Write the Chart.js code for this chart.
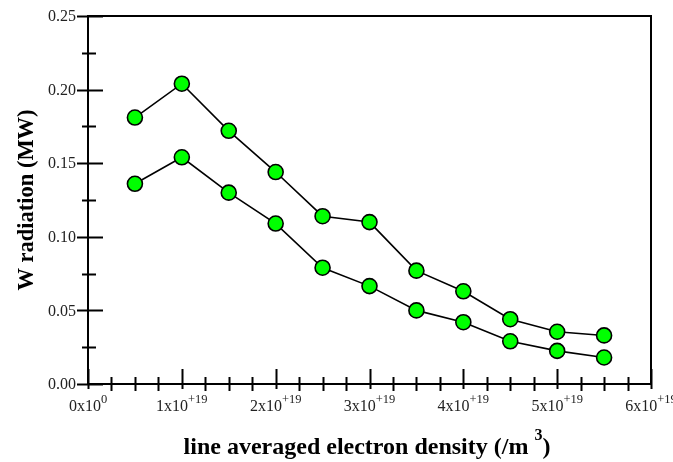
<!DOCTYPE html>
<html>
<head>
<meta charset="utf-8">
<script src="https://cdn.jsdelivr.net/npm/chart.js@4/dist/chart.umd.min.js"></script>
<style>
  html, body { margin: 0; padding: 0; background: #fff; }
  #wrap { width: 673px; height: 462px; }
</style>
</head>
<body>
<div id="wrap"><canvas id="radChart" width="673" height="462"></canvas></div>
<script>
// densities in /m^3
const densities = [0.5e19, 1.0e19, 1.5e19, 2.0e19, 2.5e19, 3.0e19, 3.5e19, 4.0e19, 4.5e19, 5.0e19, 5.5e19];
const upperSeries = [0.181, 0.204, 0.172, 0.144, 0.114, 0.110, 0.077, 0.063, 0.044, 0.0355, 0.033];
const lowerSeries = [0.136, 0.154, 0.130, 0.109, 0.079, 0.0665, 0.050, 0.042, 0.029, 0.0225, 0.018];

const xTickValues = [0, 1e19, 2e19, 3e19, 4e19, 5e19, 6e19];
const xTickBase = ['0x10', '1x10', '2x10', '3x10', '4x10', '5x10', '6x10'];
const xTickExp = ['0', '+19', '+19', '+19', '+19', '+19', '+19'];
const yTickValues = [0, 0.05, 0.10, 0.15, 0.20, 0.25];
const yTickLabels = ['0.00', '0.05', '0.10', '0.15', '0.20', '0.25'];

const serif = '"Liberation Serif", "Times New Roman", serif';

function toPoints(ys) {
  return densities.map((x, i) => ({ x, y: ys[i] }));
}

const axesPlugin = {
  id: 'oldAxes',
  afterDraw(chart) {
    const ctx = chart.ctx;
    const xs = chart.scales.x;
    const ys = chart.scales.y;
    const a = chart.chartArea;
    ctx.save();
    ctx.strokeStyle = '#000';
    ctx.lineWidth = 2;
    ctx.strokeRect(a.left, a.top, a.right - a.left, a.bottom - a.top);

    // x ticks (minor every 0.25e19)
    ctx.beginPath();
    for (let i = 0; i <= 24; i++) {
      const px = Math.round(xs.getPixelForValue(i * 0.25e19)) + 0.5;
      if (i % 4 === 0) {
        ctx.moveTo(px, a.bottom - 15);
        ctx.lineTo(px, a.bottom + 5);
      } else {
        ctx.moveTo(px, a.bottom - 7);
        ctx.lineTo(px, a.bottom + 7);
      }
    }
    // y ticks (minor every 0.025)
    for (let i = 0; i <= 10; i++) {
      const py = Math.round(ys.getPixelForValue(i * 0.025)) + 0.5;
      if (i % 2 === 0) {
        ctx.moveTo(a.left - 11, py);
        ctx.lineTo(a.left + 15, py);
      } else {
        ctx.moveTo(a.left - 6, py);
        ctx.lineTo(a.left + 8, py);
      }
    }
    ctx.stroke();

    // y labels
    ctx.fillStyle = '#222';
    ctx.font = '16px ' + serif;
    ctx.textAlign = 'right';
    ctx.textBaseline = 'middle';
    yTickValues.forEach((v, i) => {
      ctx.fillText(yTickLabels[i], a.left - 12, ys.getPixelForValue(v) + 1);
    });

    // x labels with superscript exponent
    ctx.textBaseline = 'alphabetic';
    ctx.textAlign = 'left';
    xTickValues.forEach((v, i) => {
      ctx.font = '16px ' + serif;
      const wb = ctx.measureText(xTickBase[i]).width;
      ctx.font = '12.5px ' + serif;
      const we = ctx.measureText(xTickExp[i]).width;
      const start = xs.getPixelForValue(v) - (wb + we) / 2;
      ctx.font = '16px ' + serif;
      ctx.fillText(xTickBase[i], start, a.bottom + 27);
      ctx.font = '12.5px ' + serif;
      ctx.fillText(xTickExp[i], start + wb, a.bottom + 19);
    });

    // axis titles
    ctx.fillStyle = '#000';
    ctx.font = 'bold 24px ' + serif;
    const t1 = 'line averaged electron density (/m ';
    const t1w = ctx.measureText(t1).width;
    ctx.font = 'bold 16px ' + serif;
    const supW = ctx.measureText('3').width;
    ctx.font = 'bold 24px ' + serif;
    const closeW = ctx.measureText(')').width;
    let tx = 367 - (t1w + supW + closeW) / 2;
    ctx.fillText(t1, tx, a.bottom + 70);
    ctx.font = 'bold 16px ' + serif;
    ctx.fillText('3', tx + t1w, a.bottom + 56);
    ctx.font = 'bold 24px ' + serif;
    ctx.fillText(')', tx + t1w + supW, a.bottom + 70);

    ctx.translate(33, (a.top + a.bottom) / 2);
    ctx.rotate(-Math.PI / 2);
    ctx.textAlign = 'center';
    ctx.font = 'bold 22.5px ' + serif;
    ctx.fillText('W radiation (MW)', 0, 0);
    ctx.restore();
  }
};

const dsStyle = {
  showLine: true,
  borderColor: '#000',
  borderWidth: 1.6,
  pointBackgroundColor: '#00ff00',
  pointBorderColor: '#000',
  pointBorderWidth: 1.6,
  pointRadius: 7.5,
  tension: 0
};

new Chart(document.getElementById('radChart'), {
  type: 'scatter',
  data: {
    datasets: [
      Object.assign({ label: 'upper', data: toPoints(upperSeries) }, dsStyle),
      Object.assign({ label: 'lower', data: toPoints(lowerSeries) }, dsStyle)
    ]
  },
  options: {
    responsive: false,
    animation: false,
    devicePixelRatio: 1,
    layout: { padding: { left: 88, top: 16, right: 22, bottom: 78 } },
    plugins: { legend: { display: false }, tooltip: { enabled: false } },
    scales: {
      x: { type: 'linear', min: 0, max: 6e19, display: false },
      y: { type: 'linear', min: 0, max: 0.25, display: false }
    }
  },
  plugins: [axesPlugin]
});
</script>
</body>
</html>
